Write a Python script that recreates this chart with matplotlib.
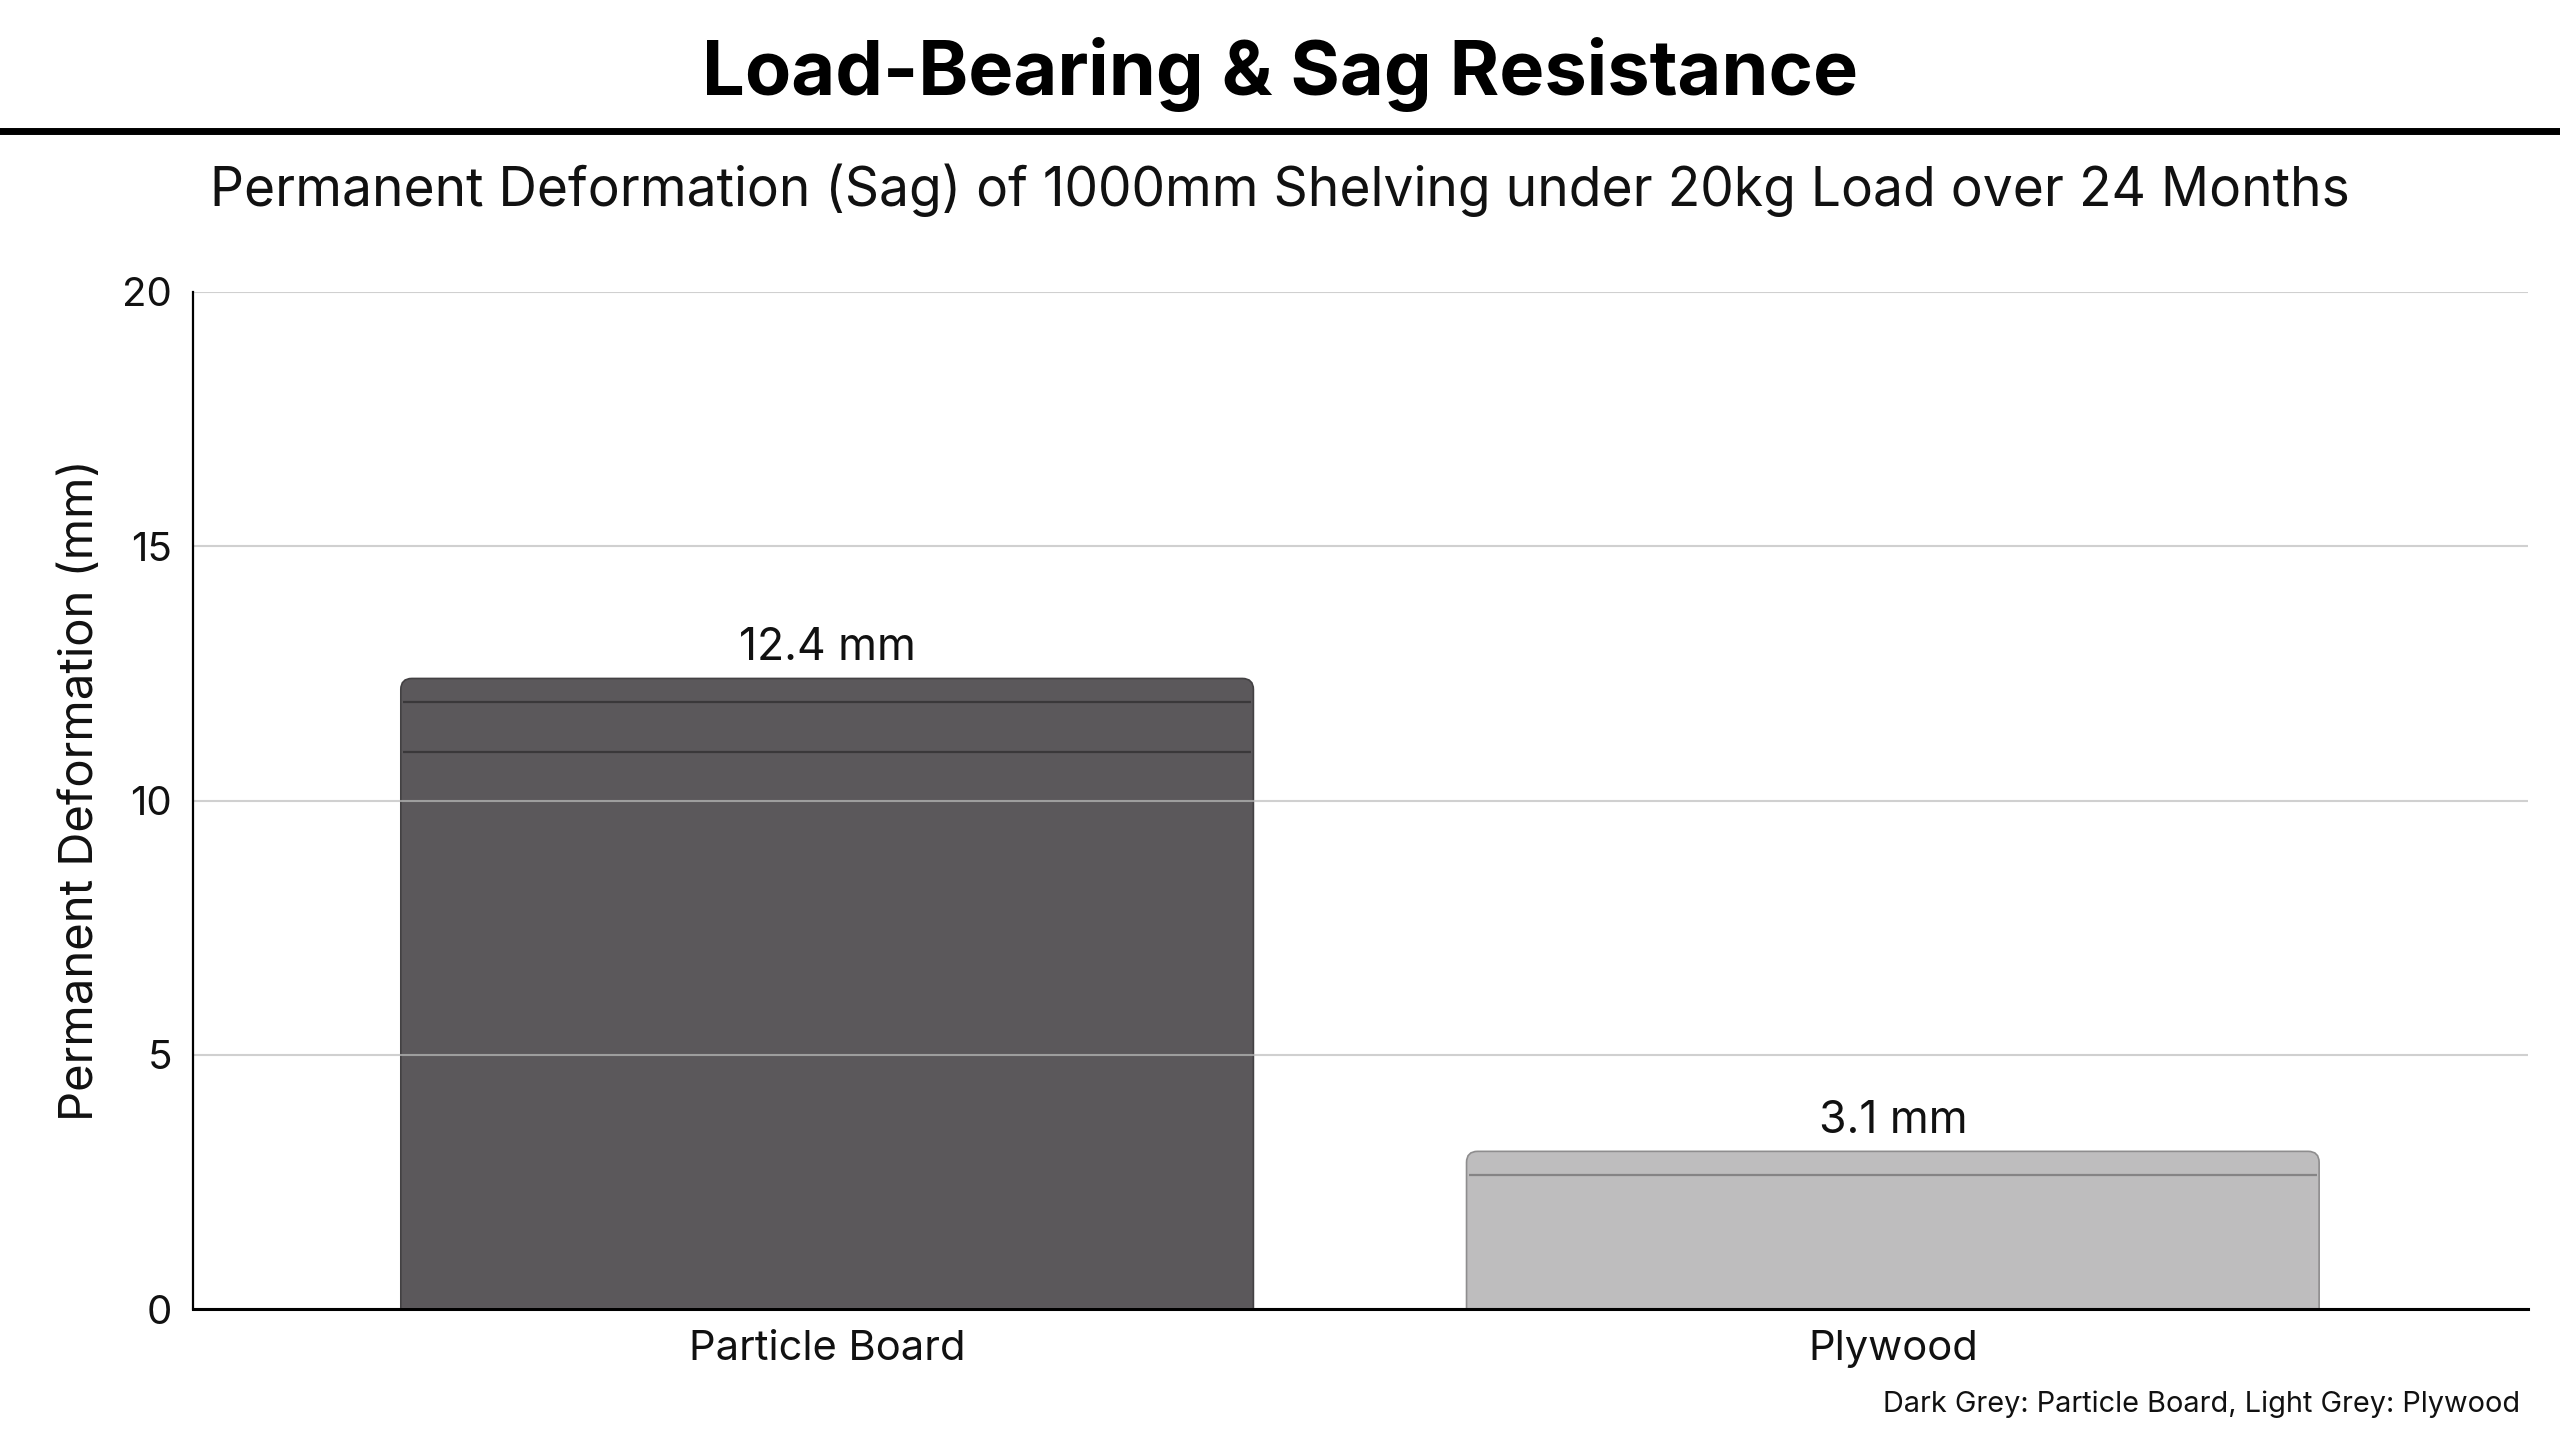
import matplotlib
matplotlib.use('Agg')
import matplotlib.pyplot as plt
from matplotlib.patches import FancyBboxPatch

# ---- data ----
categories = ['Particle Board', 'Plywood']
values = [12.4, 3.1]
value_labels = ['12.4 mm', '3.1 mm']
bar_colors = ['#5b585b', '#bebdbe']
edge_colors = ['#434143', '#8e8d8e']
stripe_colors = ['#3a383a', '#858485']
stripe_depths = [[0.47, 1.44], [0.47]]   # decorative layer lines, depth below bar top (mm)
yticks = [0, 5, 10, 15, 20]

title = 'Load-Bearing & Sag Resistance'
subtitle = 'Permanent Deformation (Sag) of 1000mm Shelving under 20kg Load over 24 Months'
ylabel = 'Permanent Deformation (mm)'
footnote = 'Dark Grey: Particle Board, Light Grey: Plywood'

plt.rcParams['font.family'] = ['Inter', 'DejaVu Sans']

W, H = 2560, 1429
fig = plt.figure(figsize=(W / 100, H / 100), dpi=100)
fig.patch.set_facecolor('white')
ax = fig.add_axes([193 / W, 1 - 1309 / H, (2528 - 193) / W, (1309 - 292) / H])

x = list(range(len(categories)))
bars = ax.bar(x, values, width=0.8, color=bar_colors, zorder=2)
ax.set_xlim(-0.595, 1.596)
ax.set_ylim(0, 20)

# rounded top corners
p0 = ax.transData.transform((0, 0))
p1 = ax.transData.transform((1, 1))
px_x = p1[0] - p0[0]
px_y = p1[1] - p0[1]
radius_px = 11
rx = radius_px / px_x
ry = radius_px / px_y
for patch, fc, ec in zip(bars.patches, bar_colors, edge_colors):
    patch.set_visible(False)
    bx, bw, bh = patch.get_x(), patch.get_width(), patch.get_height()
    fb = FancyBboxPatch((bx, -1), bw, bh + 1,
                        boxstyle=f"round,pad=0,rounding_size={rx}",
                        mutation_aspect=ry / rx,
                        facecolor=fc, edgecolor=ec, linewidth=1.2, zorder=2)
    ax.add_patch(fb)

# decorative layer lines
for xi, v, depths, sc in zip(x, values, stripe_depths, stripe_colors):
    for d in depths:
        ax.hlines(v - d, xi - 0.4 + 0.002, xi + 0.4 - 0.002, colors=sc, linewidth=1.6, zorder=2.2)

# value labels
for xi, v, lab in zip(x, values, value_labels):
    ax.annotate(lab, (xi, v), xytext=(0, 13), textcoords='offset points',
                ha='center', va='baseline', fontsize=32, color='#111111')

ax.set_xticks(x)
ax.set_xticklabels(categories)
ax.set_yticks(yticks)
ax.yaxis.grid(True, color='#bcbcbc', alpha=0.7, linewidth=1.5)
ax.set_axisbelow(False)
for s in ['top', 'right']:
    ax.spines[s].set_visible(False)
ax.spines['left'].set_linewidth(1.6)
ax.spines['bottom'].set_linewidth(2.2)
ax.spines['left'].set_zorder(3)
ax.spines['bottom'].set_zorder(3)
ax.tick_params(axis='both', length=0, labelcolor='#111111')
ax.tick_params(axis='y', pad=15, labelsize=29)
ax.tick_params(axis='x', pad=15, labelsize=30)
ax.set_ylabel(ylabel, fontsize=34, color='#111111', labelpad=14)
ax.yaxis.label.set_y(0.510)

fig.text(0.5, 1 - 95 / H, title, ha='center', va='baseline', fontsize=54.5,
         fontweight='bold', color='black')
fig.add_artist(plt.Line2D([0, 1], [1 - 131 / H, 1 - 131 / H], transform=fig.transFigure,
                          color='black', linewidth=5))
fig.text(0.5, 1 - 206 / H, subtitle, ha='center', va='baseline', fontsize=38.4, color='#111111')
fig.text(2520 / W, 1 - 1412 / H, footnote, ha='right', va='baseline', fontsize=20.8, color='#111111')

fig.savefig('out.png', dpi=100)
